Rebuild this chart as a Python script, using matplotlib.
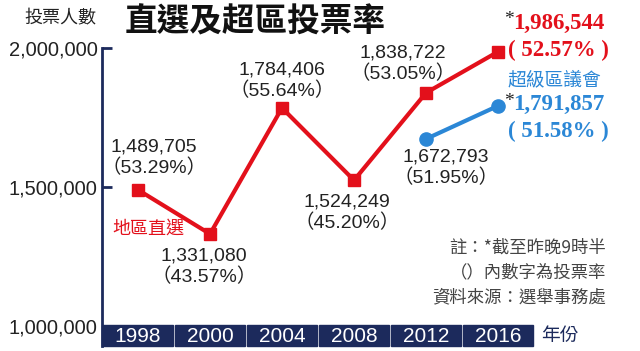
import matplotlib
matplotlib.use("Agg")
import matplotlib.pyplot as plt
from matplotlib.patches import Rectangle

years = ["1998", "2000", "2004", "2008", "2012", "2016"]
direct_votes = [1489705, 1331080, 1784406, 1524249, 1838722, 1986544]
direct_rates = ["53.29%", "43.57%", "55.64%", "45.20%", "53.05%", "52.57%"]
super_years_idx = [4, 5]
super_votes = [1672793, 1791857]
super_rates = ["51.95%", "51.58%"]
yticks = [1000000, 1500000, 2000000]
ytick_labels = ["1,000,000", "1,500,000", "2,000,000"]

RED = "#e3101b"
BLUE = "#2b87d6"
NAVY = "#1c2a5c"
GREY = "#444444"
INK = "#222222"

W, H = 640, 351
fig = plt.figure(figsize=(6.4, 3.51), dpi=100)
ax_left, ax_right = 102, 534
ax_top, ax_bot = 48, 346
ax = fig.add_axes([ax_left / W, (H - ax_bot) / H, (ax_right - ax_left) / W, (ax_bot - ax_top) / H])
ymin = 1000000 - (20 / 278) * 1e6
ax.set_xlim(-0.5, 5.5)
ax.set_ylim(ymin, 2000000)

for s in ["top", "right", "bottom"]:
    ax.spines[s].set_visible(False)
ax.spines["left"].set_color(NAVY)
ax.spines["left"].set_linewidth(2)

NUMF = ["Liberation Sans", "Noto Sans CJK TC"]
CJK = ["Noto Sans CJK TC", "DejaVu Sans"]
SERIF = ["Liberation Serif", "Noto Sans CJK TC"]

ax.set_xticks([])
ax.set_yticks(yticks)
ax.set_yticklabels(ytick_labels, family=NUMF, fontsize=14.5, color=INK)
ax.tick_params(axis="y", direction="in", length=7, width=2, color=NAVY, pad=3)

# year band
for i, y in enumerate(years):
    ax.add_patch(Rectangle((i - 0.5 + (0.02 if i else 0), ymin), 0.96 if i else 0.98,
                           1005000 - ymin, color=NAVY, zorder=3, clip_on=False))
    ax.text(i, (ymin + 1005000) / 2 - 3000, y, ha="center", va="center", color="white",
            family=NUMF, fontsize=15, zorder=4)
ax.text(5.6, (ymin + 1005000) / 2, "年份", ha="left", va="center", color=NAVY,
        family=CJK, fontsize=13.5, clip_on=False)

x = list(range(len(years)))
ax.plot(x, direct_votes, color=RED, lw=3, marker="s", markersize=9, zorder=5, clip_on=False)
ax.plot(super_years_idx, super_votes, color=BLUE, lw=3, marker="o", markersize=9.5, zorder=5, clip_on=False)

def fmt(v):
    return f"{v:,}"

def px2y(py):
    return 2000000 - (py - 48) / 278 * 1e6

lab_pos = {0: (0.22, 147), 1: (-0.08, 256), 2: (0.0, 70), 3: (-0.1, 202), 4: (-0.32, 53)}
for i, (dx, py) in lab_pos.items():
    ax.text(i + dx, px2y(py), fmt(direct_votes[i]), ha="center", va="center",
            family=NUMF, fontsize=14, color=INK, clip_on=False)
    ax.text(i + dx, px2y(py + 21), "（" + direct_rates[i] + "）", ha="center", va="center",
            family=NUMF, fontsize=14, color=INK, clip_on=False)

# super label 2012
ax.text(4 + 0.28, px2y(157), fmt(super_votes[0]), ha="center", va="center",
        family=NUMF, fontsize=14, color=INK, clip_on=False)
ax.text(4 + 0.28, px2y(178), "（" + super_rates[0] + "）", ha="center", va="center",
        family=NUMF, fontsize=14, color=INK, clip_on=False)

# 2016 red
fig.text(504 / W, 1 - 20 / H, "*", ha="left", va="center", fontsize=14, color=INK, family=SERIF)
fig.text(513 / W, 1 - 23 / H, fmt(direct_votes[5]), ha="left", va="center", fontsize=16.5,
         color=RED, weight="bold", family=SERIF)
fig.text(558 / W, 1 - 50 / H, "( " + direct_rates[5] + " )", ha="center", va="center", fontsize=16.5,
         color=RED, weight="bold", family=SERIF)
# 2016 blue
fig.text(554 / W, 1 - 80 / H, "超級區議會", ha="center", va="center", fontsize=13.5,
         color=BLUE, family=CJK)
fig.text(504 / W, 1 - 101 / H, "*", ha="left", va="center", fontsize=14, color=INK, family=SERIF)
fig.text(513 / W, 1 - 104 / H, fmt(super_votes[1]), ha="left", va="center", fontsize=16.5,
         color=BLUE, weight="bold", family=SERIF)
fig.text(558 / W, 1 - 131 / H, "( " + super_rates[1] + " )", ha="center", va="center", fontsize=16.5,
         color=BLUE, weight="bold", family=SERIF)

fig.text(148 / W, 1 - 229 / H, "地區直選", ha="center", va="center", fontsize=13,
         color=RED, family=CJK)

# title and y label
fig.text(255 / W, 1 - 22 / H, "直選及超區投票率", ha="center", va="center", fontsize=23.5,
         weight="black", color="#111111", family=CJK)
fig.text(60 / W, 1 - 18 / H, "投票人數", ha="center", va="center", fontsize=13,
         color=INK, family=CJK)

# notes
notes = ["註：*截至昨晚9時半", "（）內數字為投票率", "資料來源：選舉事務處"]
for k, n in enumerate(notes):
    fig.text(606 / W, 1 - (248 + 24.5 * k) / H, n, ha="right", va="center", fontsize=12.5,
             color=GREY, family=CJK)

fig.savefig("out.png", dpi=100)
